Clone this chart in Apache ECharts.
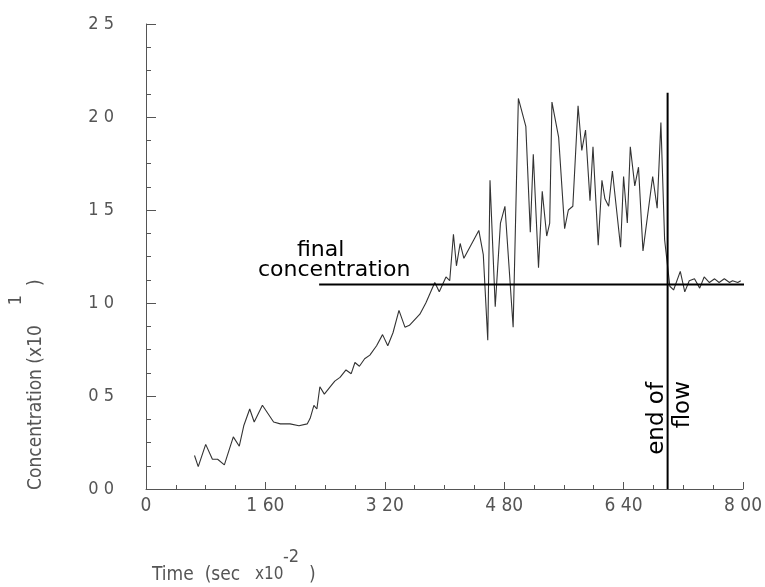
<!DOCTYPE html>
<html>
<head>
<meta charset="utf-8">
<script src="https://cdn.jsdelivr.net/npm/echarts@6/dist/echarts.min.js"></script>
<style>
  html, body { margin: 0; padding: 0; background: #fff; }
  #chart { width: 765px; height: 587px; }
</style>
</head>
<body>
<div id="chart"></div>
<script>
// Sampled concentration trace (time in sec x10^-2, concentration in x10^1)
const timeVals = [0.65,0.70,0.80,0.89,0.96,1.05,1.17,1.25,1.31,1.39,1.45,1.56,1.71,1.80,1.93,2.05,2.16,2.20,2.25,2.29,2.33,2.39,2.47,2.53,2.60,2.68,2.75,2.80,2.86,2.93,3.00,3.09,3.17,3.24,3.31,3.39,3.47,3.53,3.67,3.75,3.87,3.93,4.02,4.07,4.12,4.16,4.21,4.26,4.46,4.52,4.58,4.61,4.68,4.75,4.81,4.92,4.99,5.09,5.15,5.19,5.26,5.31,5.37,5.41,5.44,5.53,5.61,5.66,5.72,5.79,5.84,5.89,5.95,5.99,6.06,6.11,6.15,6.20,6.25,6.36,6.40,6.45,6.49,6.55,6.60,6.66,6.79,6.85,6.90,6.95,7.02,7.07,7.16,7.22,7.28,7.35,7.42,7.48,7.55,7.62,7.68,7.75,7.82,7.86,7.93,7.97];
const concVals = [0.18,0.12,0.24,0.16,0.16,0.13,0.28,0.23,0.34,0.43,0.36,0.45,0.36,0.35,0.35,0.34,0.35,0.38,0.45,0.43,0.55,0.51,0.55,0.58,0.60,0.64,0.62,0.68,0.66,0.70,0.72,0.77,0.83,0.77,0.84,0.96,0.87,0.88,0.94,1.00,1.11,1.06,1.14,1.12,1.37,1.20,1.32,1.24,1.39,1.26,0.80,1.66,0.98,1.43,1.52,0.87,2.10,1.95,1.38,1.80,1.19,1.60,1.36,1.43,2.08,1.89,1.40,1.50,1.52,2.06,1.82,1.93,1.55,1.84,1.31,1.66,1.56,1.52,1.71,1.30,1.68,1.43,1.84,1.63,1.73,1.28,1.68,1.51,1.97,1.34,1.09,1.07,1.17,1.06,1.12,1.13,1.08,1.14,1.11,1.13,1.11,1.13,1.11,1.12,1.11,1.12];

// Reference markers
const finalLevel = 1.1;
const finalLevelSpan = [2.32, 8.12];
const endOfFlowTime = 6.99;
const endOfFlowSpan = [0, 2.13];

// Axis settings
const xMin = 0, xMax = 8.0, xStep = 1.6;
const yMin = 0, yMax = 2.5, yStep = 0.5;

const trace = timeVals.map((t, i) => [t, concVals[i]]);
const finalLine = finalLevelSpan.map(t => [t, finalLevel]);
const flowLine = endOfFlowSpan.map(c => [endOfFlowTime, c]);

const plotFont = '"Liberation Sans Narrow", "DejaVu Sans Condensed", "Liberation Sans", sans-serif';
const handFont = '"DejaVu Sans", sans-serif';
const axisGray = '#555';

const chart = echarts.init(document.getElementById('chart'), null, { renderer: 'canvas' });

chart.setOption({
  backgroundColor: '#fff',
  animation: false,
  grid: { left: 146, right: 16, top: 24, bottom: 98 },
  xAxis: {
    type: 'value',
    min: xMin, max: xMax, interval: xStep,
    axisLine: { lineStyle: { color: axisGray, width: 1 } },
    axisTick: { inside: true, length: 7, lineStyle: { color: axisGray } },
    minorTick: { show: true, splitNumber: 4, length: 4, lineStyle: { color: axisGray } },
    splitLine: { show: false },
    axisLabel: {
      margin: 8,
      color: axisGray,
      fontFamily: plotFont,
      fontSize: 19,
      formatter: v => v === 0 ? '0' : v.toFixed(2).replace('.', ' ')
    }
  },
  yAxis: {
    type: 'value',
    min: yMin, max: yMax, interval: yStep,
    axisLine: { lineStyle: { color: axisGray, width: 1 } },
    axisTick: { inside: true, length: 10, lineStyle: { color: axisGray } },
    minorTick: { show: true, splitNumber: 4, length: 5, lineStyle: { color: axisGray } },
    splitLine: { show: false },
    axisLabel: {
      margin: 32,
      color: axisGray,
      fontFamily: plotFont,
      fontSize: 18,
      formatter: v => v.toFixed(1).replace('.', ' ')
    }
  },
  series: [
    {
      type: 'line',
      data: trace,
      showSymbol: false,
      symbol: 'none',
      lineStyle: { color: '#333', width: 1.1 },
      z: 3
    },
    {
      type: 'line',
      data: finalLine,
      symbol: 'none',
      clip: false,
      lineStyle: { color: '#000', width: 2 },
      z: 4
    },
    {
      type: 'line',
      data: flowLine,
      symbol: 'none',
      clip: false,
      lineStyle: { color: '#000', width: 2 },
      z: 4
    }
  ],
  graphic: [
    // y-axis title, reading bottom to top
    {
      type: 'group', x: 36, y: 490, rotation: Math.PI / 2,
      children: [
        { type: 'text', x: 0, y: 0, style: { text: 'Concentration (x10', font: '19px ' + plotFont, fill: axisGray, align: 'left', verticalAlign: 'middle' } },
        { type: 'text', x: 190, y: -20, style: { text: '1', font: '18px ' + plotFont, fill: axisGray, align: 'center', verticalAlign: 'middle' } },
        { type: 'text', x: 204, y: 0, style: { text: ')', font: '19px ' + plotFont, fill: axisGray, align: 'left', verticalAlign: 'middle' } }
      ]
    },
    // x-axis title
    { type: 'text', x: 152, y: 575, style: { text: 'Time  (sec', font: '19px ' + plotFont, fill: axisGray, align: 'left', verticalAlign: 'middle' } },
    { type: 'text', x: 255, y: 575, style: { text: 'x10', font: '17px ' + plotFont, fill: axisGray, align: 'left', verticalAlign: 'middle' } },
    { type: 'text', x: 283, y: 557, style: { text: '-2', font: '18px ' + plotFont, fill: axisGray, align: 'left', verticalAlign: 'middle' } },
    { type: 'text', x: 309, y: 575, style: { text: ')', font: '19px ' + plotFont, fill: axisGray, align: 'left', verticalAlign: 'middle' } },
    // annotations
    { type: 'text', x: 297, y: 250, style: { text: 'final', font: '22px ' + handFont, fill: '#000', align: 'left', verticalAlign: 'middle' } },
    { type: 'text', x: 258, y: 270, style: { text: 'concentration', font: '22px ' + handFont, fill: '#000', align: 'left', verticalAlign: 'middle' } },
    { type: 'text', x: 657, y: 382, rotation: Math.PI / 2, style: { text: 'end of', font: '23px ' + handFont, fill: '#000', align: 'right', verticalAlign: 'middle' } },
    { type: 'text', x: 683, y: 381, rotation: Math.PI / 2, style: { text: 'flow', font: '23px ' + handFont, fill: '#000', align: 'right', verticalAlign: 'middle' } }
  ]
});
</script>
</body>
</html>
